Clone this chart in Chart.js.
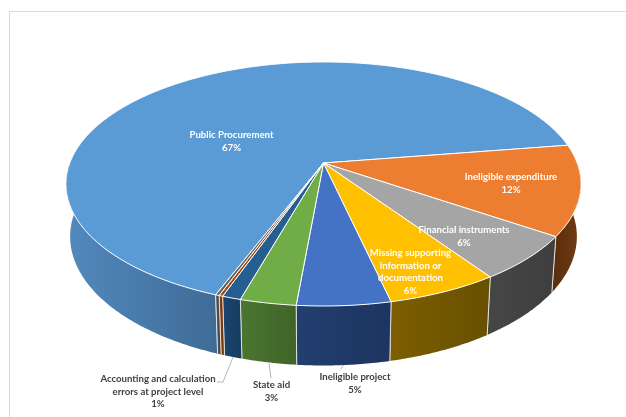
<!DOCTYPE html>
<html>
<head>
<meta charset="utf-8">
<title>Error types</title>
<script src="https://cdn.jsdelivr.net/npm/chart.js@4"></script>
<style>
    html, body { margin: 0; padding: 0; background: #fff; }
    canvas { display: block; }
</style>
</head>
<body>
<canvas id="chart" width="626" height="417"></canvas>
<script>
// Chart data
var categories = ['Public Procurement', 'Ineligible expenditure', 'Financial instruments',
    'Missing supporting information or documentation', 'Ineligible project', 'State aid',
    'Accounting and calculation errors at project level', 'Other', 'Other minor'];
var shares = [67, 12, 6, 6, 5, 3, 1, 0.2, 0.2];

// Colours
var topColors = ['#5b9bd5', '#ed7d31', '#a5a5a5', '#ffc000', '#4472c4', '#70ad47', '#255e91', '#9e480e', '#636363'];
var wallLight = ['#5288bd', '#6e3a12', '#464646', '#7d5e00', '#223f70', '#4b7530', '#1b4670', '#8a3f0c', '#555555'];
var wallDark = ['#3f6c97', '#5c2f0d', '#3e3e3e', '#675000', '#1d3560', '#3f6428', '#173c60', '#7a380a', '#4a4a4a'];

// Label text blocks, only the ones that are drawn
var labelLines = {
    0: ['Public Procurement'],
    1: ['Ineligible expenditure'],
    2: ['Financial instruments'],
    3: ['Missing supporting', 'information or', 'documentation'],
    4: ['Ineligible project'],
    5: ['State aid'],
    6: ['Accounting and calculation', 'errors at project level']
};
var labelCenters = {
    0: [231.5, 135], 1: [511, 177], 2: [464, 230], 3: [410.5, 253],
    4: [355, 377], 5: [271.5, 385], 6: [158, 379]
};
var outsideLabels = [4, 5, 6];
var leaderEnds = { 4: [[341, 369]], 5: [[271, 378]], 6: [[223, 382], [217, 382]] };

// Tilted disc: unit circle to screen, z goes from top face (0) to bottom face (1)
var CX = 323.5, CY = 163, A = 253.7, B = 118.4, P = 0.172, C = 52.5, Q = 0.016;

function project(angle, z, r) {
    var u = r * Math.cos(angle);
    var v = r * Math.sin(angle);
    var w = 1 - P * v + Q * z;
    return [CX + A * u / w, CY + (B * v + C * z) / w];
}

function traceArc(ctx, from, to, z) {
    var steps = Math.max(2, Math.ceil(Math.abs(to - from) / 0.01));
    for (var i = 0; i <= steps; i++) {
        var p = project(from + (to - from) * i / steps, z, 1);
        ctx.lineTo(p[0], p[1]);
    }
}

// Outer wall of one slice, only the part between the two side tangents
function drawWall(ctx, arc, index) {
    for (var k = -1; k <= 1; k++) {
        var from = Math.max(arc.startAngle + k * 2 * Math.PI, 0);
        var to = Math.min(arc.endAngle + k * 2 * Math.PI, Math.PI);
        if (to <= from) continue;

        var left = project(to, 0, 1)[0];
        var right = project(from, 0, 1)[0];
        var fill = ctx.createLinearGradient(left, 0, right, 0);
        fill.addColorStop(0, index === 1 ? wallDark[index] : wallLight[index]);
        fill.addColorStop(1, index === 1 ? wallLight[index] : wallDark[index]);

        ctx.beginPath();
        traceArc(ctx, from, to, 0);
        traceArc(ctx, to, from, 1);
        ctx.closePath();
        ctx.fillStyle = fill;
        ctx.fill();

        // light edges where the wall meets its neighbours
        ctx.strokeStyle = 'rgba(255,255,255,0.7)';
        ctx.lineWidth = 1;
        [from, to].forEach(function (a) {
            if (a === 0 || a === Math.PI) return;
            var t = project(a, 0, 1), b = project(a, 1, 1);
            ctx.beginPath();
            ctx.moveTo(t[0], t[1]);
            ctx.lineTo(b[0], b[1]);
            ctx.stroke();
        });
    }
}

function drawTop(ctx, arc) {
    ctx.beginPath();
    ctx.moveTo(CX, CY);
    traceArc(ctx, arc.startAngle, arc.endAngle, 0);
    ctx.closePath();
    ctx.fillStyle = arc.options.backgroundColor;
    ctx.fill();
    ctx.strokeStyle = arc.options.borderColor;
    ctx.lineWidth = arc.options.borderWidth;
    ctx.lineJoin = 'round';
    ctx.stroke();
}

var discPlugin = {
    id: 'disc',
    beforeDraw: function (chart) {
        var ctx = chart.ctx;
        ctx.save();
        ctx.fillStyle = '#fff';
        ctx.fillRect(0, 0, chart.width, chart.height);
        ctx.strokeStyle = '#dcdcdc';
        ctx.lineWidth = 1;
        ctx.strokeRect(9.5, 11.5, chart.width + 20, chart.height + 20);
        ctx.restore();
    },
    // The library works out the slice angles, the tilted shape is drawn here
    beforeDatasetsDraw: function (chart) {
        var ctx = chart.ctx;
        var arcs = chart.getDatasetMeta(0).data;
        ctx.save();
        arcs.forEach(function (arc, i) { drawWall(ctx, arc, i); });
        arcs.forEach(function (arc) { drawTop(ctx, arc); });
        ctx.restore();
        return false;
    },
    afterDraw: function (chart) {
        var ctx = chart.ctx;
        var arcs = chart.getDatasetMeta(0).data;
        var lineHeight = 12.5;

        ctx.save();
        // leader lines
        ctx.strokeStyle = '#b5b5b5';
        ctx.lineWidth = 1;
        outsideLabels.forEach(function (i) {
            var start = project((arcs[i].startAngle + arcs[i].endAngle) / 2, 1, 1);
            ctx.beginPath();
            ctx.moveTo(start[0], start[1]);
            leaderEnds[i].forEach(function (p) { ctx.lineTo(p[0], p[1]); });
            ctx.stroke();
        });

        ctx.font = 'bold 9.6px Lato, "Open Sans", sans-serif';
        ctx.textAlign = 'center';
        ctx.textBaseline = 'middle';
        Object.keys(labelLines).forEach(function (key) {
            var i = Number(key);
            var lines = labelLines[i].concat(Math.round(shares[i]) + '%');
            ctx.fillStyle = outsideLabels.indexOf(i) >= 0 ? '#404040' : '#ffffff';
            lines.forEach(function (line, n) {
                ctx.fillText(line, labelCenters[i][0], labelCenters[i][1] + n * lineHeight);
            });
        });
        ctx.restore();
    }
};

new Chart(document.getElementById('chart'), {
    type: 'pie',
    data: {
        labels: categories,
        datasets: [{
            data: shares,
            backgroundColor: topColors,
            borderColor: '#ffffff',
            borderWidth: 1
        }]
    },
    options: {
        responsive: false,
        animation: false,
        rotation: -159.1,
        plugins: {
            legend: { display: false },
            tooltip: { enabled: false }
        }
    },
    plugins: [discPlugin]
});
</script>
</body>
</html>
